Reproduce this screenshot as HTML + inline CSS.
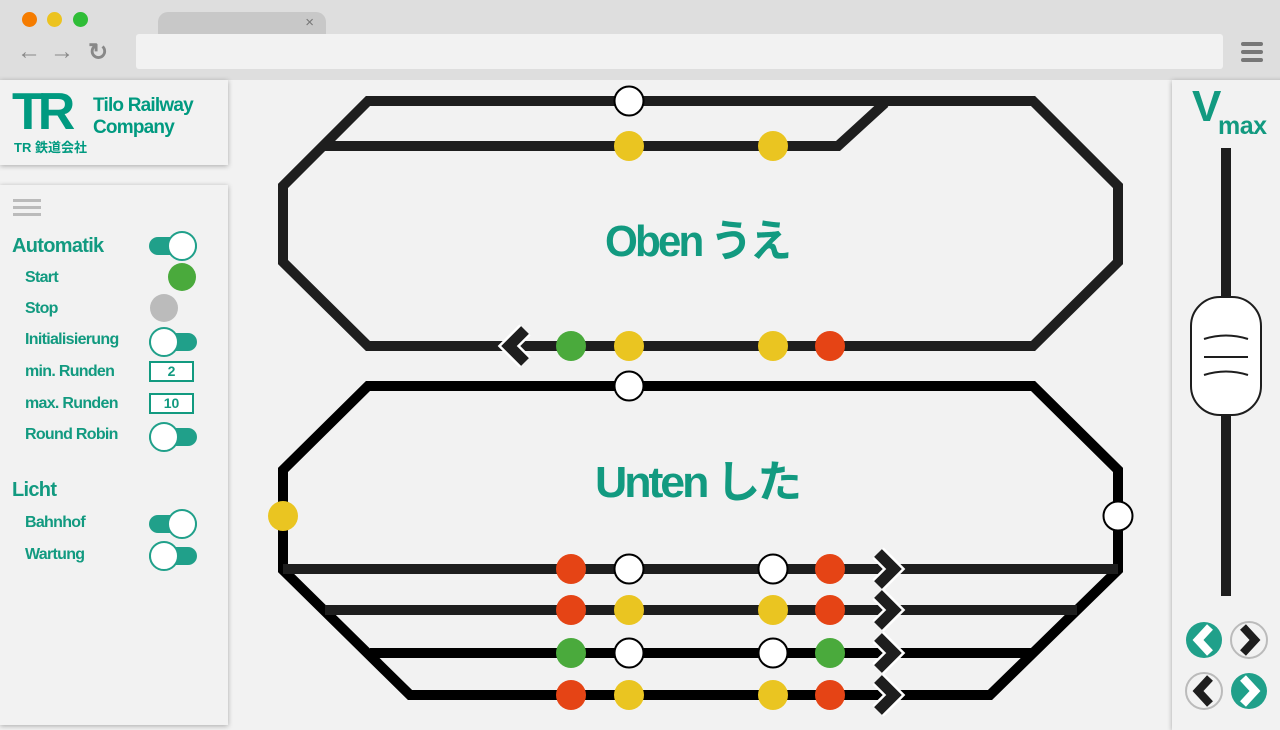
<!DOCTYPE html>
<html><head><meta charset="utf-8">
<style>
*{margin:0;padding:0;box-sizing:border-box}
body{width:1280px;height:720px;overflow:hidden;background:#f2f2f2;font-family:"Liberation Sans","Noto Sans CJK JP",sans-serif;position:relative}
.abs{position:absolute}
.chrome{left:0;top:0;width:1280px;height:80px;background:#dedede}
.panel{background:#f2f2f2;box-shadow:0 1px 5px rgba(0,0,0,.3)}
.lbl{color:#129a80;font-weight:bold;font-size:16px;letter-spacing:-0.7px}
.big{font-size:20px}
.tog{width:48px;height:18px;border-radius:9px;background:#20a08a}
.knob{width:30px;height:30px;border-radius:50%;background:#fff;border:2px solid #20a08a;top:-6px}
.num{width:45px;height:21px;border:2px solid #129a80;background:#fff;color:#129a80;font-weight:bold;font-size:14px;text-align:center;line-height:17px}
</style></head><body>
<div class="abs chrome">
 <div class="abs" style="left:22px;top:12px;width:15px;height:15px;border-radius:50%;background:#f57c00"></div>
 <div class="abs" style="left:47px;top:12px;width:15px;height:15px;border-radius:50%;background:#ecc31f"></div>
 <div class="abs" style="left:73px;top:12px;width:15px;height:15px;border-radius:50%;background:#2fbd37"></div>
 <div class="abs" style="left:158px;top:12px;width:168px;height:24px;background:#c8c8c8;border-radius:10px 10px 0 0"><span class="abs" style="right:12px;top:2px;color:#777;font-size:15px">×</span></div>
 <div class="abs" style="left:136px;top:34px;width:1087px;height:35px;background:#f2f2f2;border-radius:3px"></div>
 <div class="abs" style="left:17px;top:38px;color:#888;font-size:24px;font-weight:bold">←</div>
 <div class="abs" style="left:50px;top:38px;color:#888;font-size:24px;font-weight:bold">→</div>
 <div class="abs" style="left:88px;top:38px;color:#888;font-size:24px;font-weight:bold">↻</div>
 <div class="abs" style="left:1241px;top:42px;width:22px">
  <div style="height:4px;background:#777;margin-bottom:4px;border-radius:2px"></div><div style="height:4px;background:#777;margin-bottom:4px;border-radius:2px"></div><div style="height:4px;background:#777;border-radius:2px"></div></div>
</div>

<div class="abs panel" style="left:0;top:80px;width:228px;height:85px">
 <div class="abs" style="left:12px;top:6px;color:#009a80;font-weight:bold;font-size:52px;letter-spacing:-6px;line-height:52px">TR</div>
 <div class="abs" style="left:14px;top:57px;color:#009a80;font-weight:bold;font-size:13px">TR 鉄道会社</div>
 <div class="abs" style="left:93px;top:15px;color:#009a80;font-weight:bold;font-size:19px;line-height:22px;letter-spacing:-0.8px">Tilo Railway<br>Company</div>
</div>

<div class="abs panel" style="left:0;top:185px;width:228px;height:540px">
 <div class="abs" style="left:13px;top:14px;width:28px">
  <div style="height:3px;background:#bbb;margin-bottom:4px"></div><div style="height:3px;background:#bbb;margin-bottom:4px"></div><div style="height:3px;background:#bbb"></div></div>
 <div class="abs lbl big" style="left:12px;top:50px">Automatik</div>
 <div class="abs tog" style="left:149px;top:52px"><div class="abs knob" style="left:18px"></div></div>
 <div class="abs lbl" style="left:25px;top:84px">Start</div>
 <div class="abs" style="left:168px;top:78px;width:28px;height:28px;border-radius:50%;background:#4aaa3c"></div>
 <div class="abs lbl" style="left:25px;top:115px">Stop</div>
 <div class="abs" style="left:150px;top:109px;width:28px;height:28px;border-radius:50%;background:#bbb"></div>
 <div class="abs lbl" style="left:25px;top:146px">Initialisierung</div>
 <div class="abs tog" style="left:149px;top:148px"><div class="abs knob" style="left:0"></div></div>
 <div class="abs lbl" style="left:25px;top:178px">min. Runden</div>
 <div class="abs num" style="left:149px;top:176px">2</div>
 <div class="abs lbl" style="left:25px;top:210px">max. Runden</div>
 <div class="abs num" style="left:149px;top:208px">10</div>
 <div class="abs lbl" style="left:25px;top:241px">Round Robin</div>
 <div class="abs tog" style="left:149px;top:243px"><div class="abs knob" style="left:0"></div></div>
 <div class="abs lbl big" style="left:12px;top:294px">Licht</div>
 <div class="abs lbl" style="left:25px;top:329px">Bahnhof</div>
 <div class="abs tog" style="left:149px;top:330px"><div class="abs knob" style="left:18px"></div></div>
 <div class="abs lbl" style="left:25px;top:361px">Wartung</div>
 <div class="abs tog" style="left:149px;top:362px"><div class="abs knob" style="left:0"></div></div>
</div>

<div class="abs panel" style="left:1172px;top:80px;width:120px;height:650px">
 <div class="abs" style="left:20px;top:2px;color:#129a80;font-weight:bold;font-size:44px;line-height:50px">V</div>
 <div class="abs" style="left:46px;top:32px;color:#129a80;font-weight:bold;font-size:25px;letter-spacing:-0.5px">max</div>
 <div class="abs" style="left:49px;top:68px;width:10px;height:448px;background:#1e1e1e"></div>
 <div class="abs" style="left:18px;top:216px;width:72px;height:120px;border-radius:30px;background:#fff;border:2px solid #1e1e1e">
  <svg class="abs" style="left:0;top:0" width="68" height="116"><path d="M12 41 Q34 34 56 41 M12 59 L56 59 M12 77 Q34 70 56 77" fill="none" stroke="#1e1e1e" stroke-width="2"/></svg></div>
</div>
<svg class="abs" style="left:1180px;top:615px" width="100" height="105">
 <g><circle cx="24" cy="25" r="18" fill="#20a08a"/><path d="M30 12 L18 25 L30 38" fill="none" stroke="#fff" stroke-width="8"/></g>
 <g><circle cx="69" cy="25" r="18" fill="#f2f2f2" stroke="#bbb" stroke-width="2"/><path d="M63 12 L75 25 L63 38" fill="none" stroke="#1e1e1e" stroke-width="8"/></g>
 <g><circle cx="24" cy="76" r="18" fill="#f2f2f2" stroke="#bbb" stroke-width="2"/><path d="M30 63 L18 76 L30 89" fill="none" stroke="#1e1e1e" stroke-width="8"/></g>
 <g><circle cx="69" cy="76" r="18" fill="#20a08a"/><path d="M63 63 L75 76 L63 89" fill="none" stroke="#fff" stroke-width="8"/></g>
</svg>

<svg id="tracks" class="abs" style="left:0;top:0" width="1280" height="720">
 <text x="697" y="256" text-anchor="middle" font-size="44" font-weight="bold" fill="#129a80" letter-spacing="-3" font-family="Liberation Sans, Noto Sans CJK JP, sans-serif" textLength="184" lengthAdjust="spacingAndGlyphs">Oben うえ</text>
 <text x="697" y="497" text-anchor="middle" font-size="44" font-weight="bold" fill="#129a80" letter-spacing="-3" font-family="Liberation Sans, Noto Sans CJK JP, sans-serif" textLength="204" lengthAdjust="spacingAndGlyphs">Unten した</text>
</svg>
<script>
const trackPaths=[
 ["upper-loop","M368 101 L1033 101 L1118 186 L1118 262 L1033 346 L368 346 L283 262 L283 186 Z","#1e1e1e"],
 ["upper-siding","M325 146 L838 146 L885 103","#1e1e1e"],
 ["lower-loop","M368 386 L1033 386 L1118 470 L1118 570 L990 695 L410 695 L283 570 L283 470 Z","#000"],
 ["lower-track-1","M283 569 L1118 569","#1e1e1e"],
 ["lower-track-2","M325 610 L1077 610","#1e1e1e"],
 ["lower-track-3","M370 653 L1033 653","#000"],
];
const colorMap={w:"#fff",y:"#eac521",r:"#e54415",g:"#4aaa3c"};
const upperSignals=[[629,101,"w"],[629,146,"y"],[773,146,"y"],[571,346,"g"],[629,346,"y"],[773,346,"y"],[830,346,"r"],[629,386,"w"],[283,516,"y"],[1118,516,"w"]];
const rowY=[569,610,653,695];
const rowColors=[["r","w","w","r"],["r","y","y","r"],["g","w","w","g"],["r","y","y","r"]];
const colX=[571,629,773,830];
const ns="http://www.w3.org/2000/svg";
const svg=document.getElementById("tracks");
const first=svg.firstChild;
function add(tag,attrs){const e=document.createElementNS(ns,tag);for(const k in attrs)e.setAttribute(k,attrs[k]);svg.insertBefore(e,first);return e;}
trackPaths.forEach(t=>{const p=add("path",{d:t[1],fill:"none",stroke:t[2],"stroke-width":10,"stroke-linejoin":"miter"});

});
function chevron(x,y,dir){const d=dir>0?`M${x-10} ${y-16} L${x+6} ${y} L${x-10} ${y+16}`:`M${x+10} ${y-16} L${x-6} ${y} L${x+10} ${y+16}`;
 add("path",{d:d,fill:"none",stroke:"#fff","stroke-width":16});
 const c=add("path",{d:d,fill:"none",stroke:"#1e1e1e","stroke-width":11});
 
 }
function signal(x,y,k){const c=add("circle",{cx:x,cy:y,r:k==="w"?14.5:15,fill:colorMap[k],stroke:k==="w"?"#000":"none","stroke-width":2});
 
 }
chevron(515,346,-1);
upperSignals.forEach(s=>signal(s[0],s[1],s[2]));
rowY.forEach((y,i)=>{rowColors[i].forEach((k,j)=>signal(colX[j],y,k));chevron(888,y,1);});
</script>
</body></html>
